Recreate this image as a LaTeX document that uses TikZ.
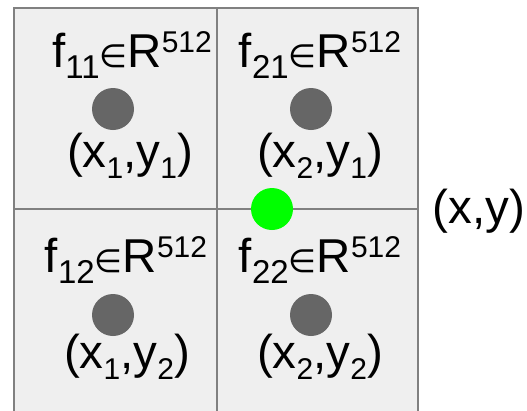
\documentclass[tikz,border=0pt]{standalone}
\usepackage{fontspec}
\setmainfont{Liberation Sans}
\newfontfamily\symfont{DejaVu Sans}
\definecolor{cellfill}{HTML}{EFEFEF}
\definecolor{cellline}{HTML}{808080}
\definecolor{dotgray}{HTML}{666666}
\definecolor{dotgreen}{HTML}{00FF00}
\newcommand{\lsub}[1]{\raisebox{-11pt}{\fontsize{33}{33}\selectfont #1}}
\newcommand{\csub}[1]{\raisebox{-11pt}{\fontsize{30}{30}\selectfont #1}}
\newcommand{\lsup}[1]{\raisebox{15pt}{\fontsize{30}{30}\selectfont #1}}
\newcommand{\elem}{{\symfont\fontsize{32}{32}\selectfont ∈}}
\newcommand{\flabel}[1]{f\lsub{#1}\elem R\lsup{512}}
\begin{document}
\begin{tikzpicture}[x=1pt,y=-1pt,
  cell/.style={fill=cellfill,draw=cellline,line width=1.8pt},
  dot/.style={circle,fill=dotgray,minimum size=42pt,inner sep=0pt},
  gdot/.style={circle,fill=dotgreen,minimum size=42pt,inner sep=0pt},
  lbl/.style={anchor=base,inner sep=0pt,font=\fontsize{47.5}{47.5}\selectfont}]
\useasboundingbox (0,0) rectangle (527,410);
\path[cell] (14,8) rectangle (217,209);
\path[cell] (217,8) rectangle (418,209);
\path[cell] (14,209) rectangle (217,414);
\path[cell] (217,209) rectangle (418,414);
\node[dot] (p11) at (113,109) {};
\node[dot] (p21) at (311,109) {};
\node[dot] (p12) at (113,315) {};
\node[dot] (p22) at (311,315) {};
\node[gdot] (q) at (272,209) {};
\node[lbl] (f11) at (132,67) {\flabel{11}};
\node[lbl] (f21) at (320,67) {\flabel{21}};
\node[lbl] (f12) at (126,272) {\flabel{12}};
\node[lbl] (f22) at (320,272) {\flabel{22}};
\node[lbl] (c11) at (130,167) {(x\csub{1},y\csub{1})};
\node[lbl] (c21) at (320,167) {(x\csub{2},y\csub{1})};
\node[lbl] (c12) at (127,368) {(x\csub{1},y\csub{2})};
\node[lbl] (c22) at (320,368) {(x\csub{2},y\csub{2})};
\node[lbl] (xy) at (479,223) {(x,y)};
\end{tikzpicture}
\end{document}
